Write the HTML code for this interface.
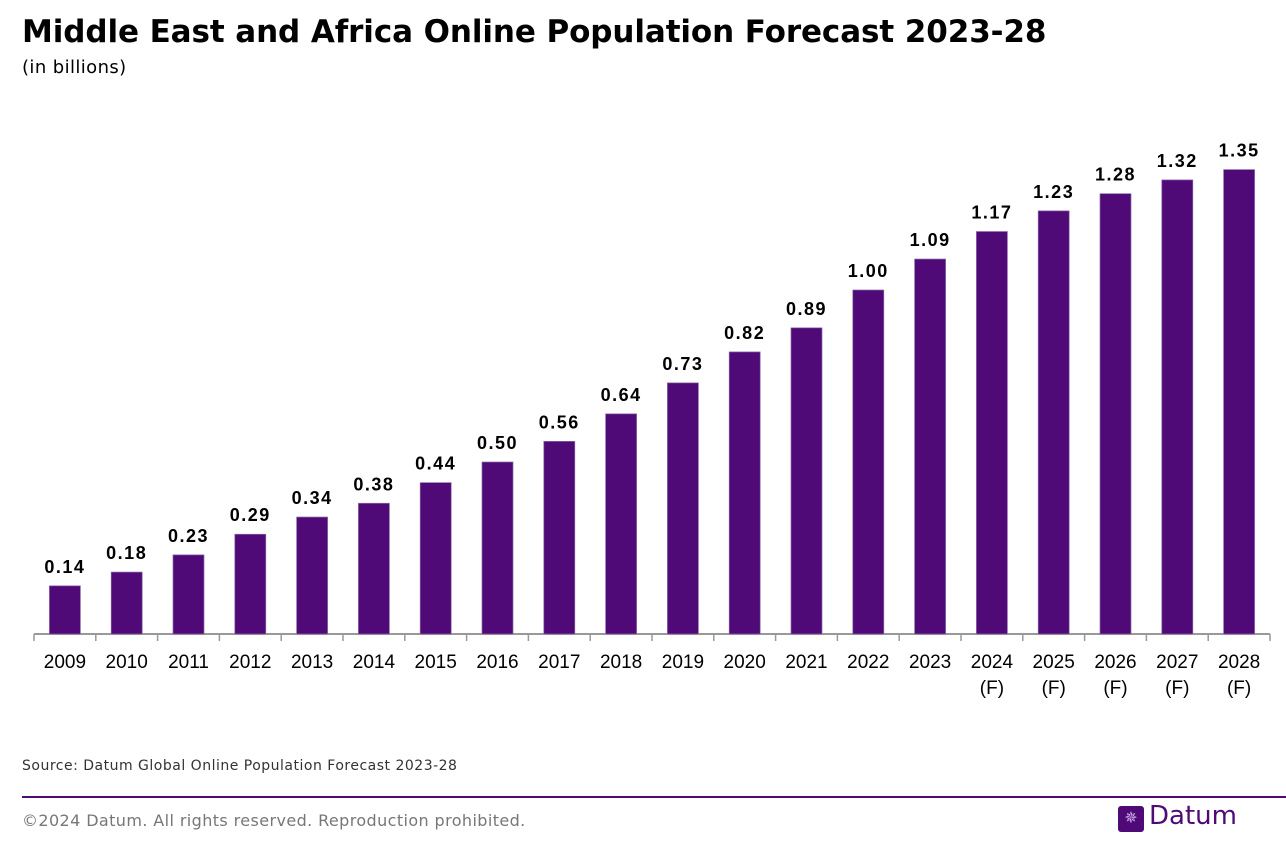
<!DOCTYPE html>
<html><head><meta charset="utf-8"><style>
body{margin:0;width:1286px;height:846px;background:#fff;font-family:"Liberation Sans","DejaVu Sans",sans-serif;position:relative;overflow:hidden}
.t{position:absolute;left:22px;top:14px;font-family:"DejaVu Sans",sans-serif;font-size:31px;font-weight:bold;color:#000;letter-spacing:-0.1px;white-space:nowrap}
.s{position:absolute;left:22px;top:57px;font-family:"DejaVu Sans",sans-serif;font-size:18px;color:#000;letter-spacing:0.4px}
.src{position:absolute;left:22px;top:758px;font-family:"DejaVu Sans",sans-serif;font-size:14px;color:#333;letter-spacing:0.5px;white-space:nowrap}
.hr{position:absolute;left:22px;top:796px;width:1264px;height:2px;background:#4f0a78}
.cp{position:absolute;left:22px;top:811px;font-family:"DejaVu Sans",sans-serif;font-size:16px;color:#777;letter-spacing:0.4px;white-space:nowrap}
.logo{position:absolute;left:1118px;top:806px;width:26px;height:26px;background:#4f0a78;border-radius:3px;color:#c9a9e6;font-size:16px;text-align:center;line-height:26px}
.lt{position:absolute;left:1149px;top:801px;font-family:"DejaVu Sans",sans-serif;font-size:26px;color:#4f0a78}
</style></head><body>
<div class="t">Middle East and Africa Online Population Forecast 2023-28</div>
<div class="s">(in billions)</div>
<svg id="c" width="1286" height="720" style="position:absolute;left:0;top:0"></svg>
<div class="src">Source: Datum Global Online Population Forecast 2023-28</div>
<div class="hr"></div>
<div class="cp">©2024 Datum. All rights reserved. Reproduction prohibited.</div>
<div class="logo">✵</div>
<div class="lt">Datum</div>
<script>
const categories=["2009","2010","2011","2012","2013","2014","2015","2016","2017","2018","2019","2020","2021","2022","2023","2024","2025","2026","2027","2028"];
const forecast=[false,false,false,false,false,false,false,false,false,false,false,false,false,false,false,true,true,true,true,true];
const values=[0.14,0.18,0.23,0.29,0.34,0.38,0.44,0.50,0.56,0.64,0.73,0.82,0.89,1.00,1.09,1.17,1.23,1.28,1.32,1.35];
const labels=["0.14","0.18","0.23","0.29","0.34","0.38","0.44","0.50","0.56","0.64","0.73","0.82","0.89","1.00","1.09","1.17","1.23","1.28","1.32","1.35"];
const svg=document.getElementById('c'),NS='http://www.w3.org/2000/svg';
const x0=34,x1=1270,base=634,scale=344;
const band=(x1-x0)/categories.length;
const xPos=i=>x0+band*i+band/2;
const yPos=v=>base-v*scale;
function mk(t,a){const e=document.createElementNS(NS,t);for(const k in a)e.setAttribute(k,a[k]);svg.appendChild(e);return e;}
const ax=mk('line',{x1:x0,x2:x1,y1:base,y2:base,stroke:'#999','stroke-width':2});


for(let i=0;i<=categories.length;i++){
 const tk=mk('line',{x1:x0+band*i,x2:x0+band*i,y1:base,y2:base+7,stroke:'#999','stroke-width':1.5});
 
 
}
values.forEach((v,i)=>{
 const w=31,cx=xPos(i);
 const r=mk('rect',{x:cx-w/2,y:yPos(v),width:w,height:base-yPos(v),fill:'#500a78',stroke:'#8a6aa5','stroke-width':0.7});
 
 
 const t=mk('text',{x:cx,y:yPos(v)-13,'text-anchor':'middle','font-size':18,'font-weight':'bold','letter-spacing':1.5});
 t.textContent=labels[i];
 
 
 const c=mk('text',{x:cx,y:668,'text-anchor':'middle','font-size':19});
 c.textContent=categories[i];
 
 
 if(forecast[i]){
  const f=mk('text',{x:cx,y:694,'text-anchor':'middle','font-size':19});
  f.textContent='(F)';
  
  
 }
});
</script>
</body></html>
